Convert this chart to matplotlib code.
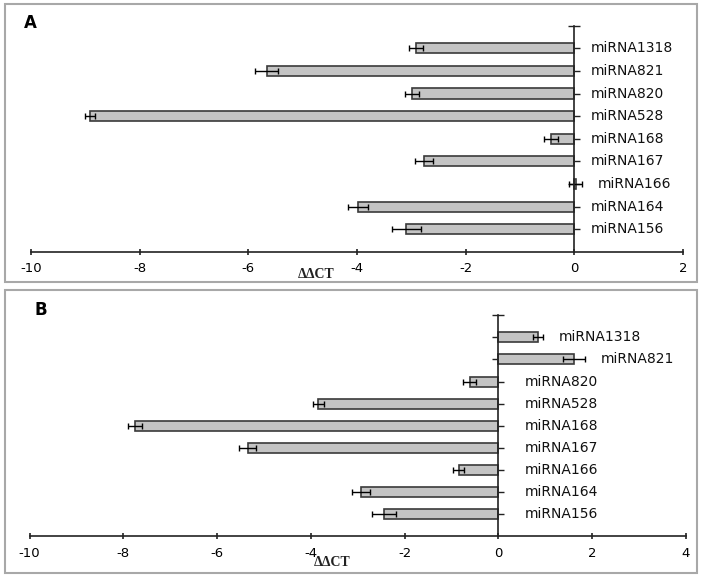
import matplotlib
matplotlib.use("Agg")
import matplotlib.pyplot as plt
from matplotlib.patches import Rectangle

categories = ['miRNA1318', 'miRNA821', 'miRNA820', 'miRNA528', 'miRNA168',
              'miRNA167', 'miRNA166', 'miRNA164', 'miRNA156']
values_a = [-2.92, -5.66, -2.98, -8.92, -0.43, -2.77, 0.03, -3.98, -3.09]
errors_a = [0.13, 0.21, 0.13, 0.09, 0.13, 0.17, 0.12, 0.19, 0.27]
values_b = [0.85, 1.61, -0.61, -3.84, -7.75, -5.35, -0.85, -2.93, -2.44]
errors_b = [0.11, 0.24, 0.14, 0.12, 0.15, 0.18, 0.12, 0.19, 0.26]
xticks_a = [-10, -8, -6, -4, -2, 0, 2]
xticks_b = [-10, -8, -6, -4, -2, 0, 2, 4]
xlabel = 'ΔΔCT'

W, H = 709, 579
fig = plt.figure(figsize=(W / 100, H / 100), dpi=100)

# panel frames
for (x0, y0, x1, y1) in [(5, 4, 697, 282), (5, 290, 697, 573)]:
    fig.patches.append(Rectangle((x0 / W, 1 - y1 / H), (x1 - x0) / W, (y1 - y0) / H,
                                 transform=fig.transFigure, fill=False,
                                 edgecolor='#a8a8a8', linewidth=1.5))


def panel(rect, vals, errs, xticks, letter, letter_pos, xlabel_x, xlabel_y, pos_off, neg_off):
    ax = fig.add_axes(rect)
    n = len(categories)
    ypos = [n - 1 - i for i in range(n)]
    ax.barh(ypos, vals, height=0.45, color='#c4c4c4', edgecolor='#3a3a3a',
            linewidth=1.2, xerr=errs,
            error_kw=dict(ecolor='black', elinewidth=1.0, capsize=2.5, capthick=1.0),
            zorder=2)
    ax.set_xlim(xticks[0], xticks[-1])
    ax.set_ylim(-1, n)
    ax.spines['top'].set_visible(False)
    ax.spines['right'].set_visible(False)
    ax.spines['left'].set_position(('data', 0))
    for s in ('left', 'bottom'):
        ax.spines[s].set_linewidth(1.2)
        ax.spines[s].set_color('#222222')
        ax.spines[s].set_zorder(3)
    ax.set_yticks(list(range(0, n + 1)))
    ax.set_yticklabels([])
    ax.tick_params(axis='y', direction='inout', length=8, width=1.0, color='#222222')
    ax.set_xticks(xticks)
    ax.set_xticklabels([str(t) for t in xticks], fontsize=9.5, family='DejaVu Sans')
    ax.tick_params(axis='x', direction='inout', length=5, width=1.2, color='#222222', pad=5)
    ax.patch.set_visible(False)
    for y, name, v, e in zip(ypos, categories, vals, errs):
        xe = max(0.0, v + e) if v > 0 else 0.0
        off = pos_off if v > 0 else neg_off
        ax.annotate(name, xy=(xe, y), xytext=(off, 0), textcoords='offset points',
                    ha='left', va='center', fontsize=10, family='DejaVu Sans',
                    color='#111111')
    ax.text(xlabel_x, xlabel_y, xlabel, transform=ax.get_xaxis_transform(),
            ha='center', va='center', fontsize=10, fontweight='bold',
            family='Liberation Serif', color='#222222')
    fig.text(letter_pos[0] / W, 1 - letter_pos[1] / H, letter, fontsize=12,
             fontweight='bold', family='DejaVu Sans', ha='left', va='baseline')
    return ax


panel([31 / W, 0.565, (683 - 31) / W, 0.3906], values_a, errors_a, xticks_a,
      'A', (24, 28), -4.75, -0.10, 11, 12)
panel([29.5 / W, 0.0736, (686 - 29.5) / W, 0.382], values_b, errors_b, xticks_b,
      'B', (35, 315), -3.55, -0.12, 11, 19)

fig.savefig('out.png', dpi=100)
